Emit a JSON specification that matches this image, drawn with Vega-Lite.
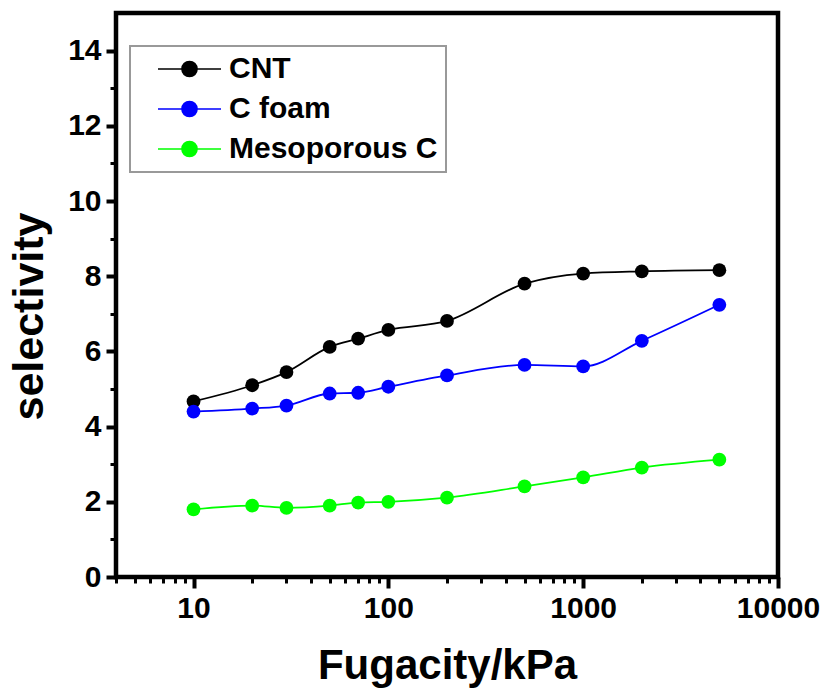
{
  "$schema": "https://vega.github.io/schema/vega-lite/v6.json",
  "width": 662,
  "height": 564,
  "autosize": "none",
  "padding": {"left": 116, "top": 13, "right": 43, "bottom": 119},
  "config": {
    "font": "Liberation Sans",
    "view": {"stroke": "#000000", "strokeWidth": 4.5},
    "axis": {
      "grid": false,
      "domain": false,
      "labelFlush": false,
      "labelOverlap": false,
      "tickColor": "#000000",
      "tickWidth": 3,
      "labelColor": "#000000",
      "labelFont": "Liberation Sans",
      "labelFontSize": 30,
      "labelFontWeight": "bold",
      "titleColor": "#000000",
      "titleFont": "Liberation Sans",
      "titleFontSize": 42,
      "titleFontWeight": "bold"
    }
  },
  "data": {
    "values": [
      {"material": "CNT", "fugacity": 10, "selectivity": 4.67},
      {"material": "CNT", "fugacity": 20, "selectivity": 5.10},
      {"material": "CNT", "fugacity": 30, "selectivity": 5.45},
      {"material": "CNT", "fugacity": 50, "selectivity": 6.12},
      {"material": "CNT", "fugacity": 70, "selectivity": 6.34},
      {"material": "CNT", "fugacity": 100, "selectivity": 6.57},
      {"material": "CNT", "fugacity": 200, "selectivity": 6.81},
      {"material": "CNT", "fugacity": 500, "selectivity": 7.80},
      {"material": "CNT", "fugacity": 1000, "selectivity": 8.07},
      {"material": "CNT", "fugacity": 2000, "selectivity": 8.13},
      {"material": "CNT", "fugacity": 5000, "selectivity": 8.16},
      {"material": "C foam", "fugacity": 10, "selectivity": 4.40},
      {"material": "C foam", "fugacity": 20, "selectivity": 4.48},
      {"material": "C foam", "fugacity": 30, "selectivity": 4.56},
      {"material": "C foam", "fugacity": 50, "selectivity": 4.88},
      {"material": "C foam", "fugacity": 70, "selectivity": 4.90},
      {"material": "C foam", "fugacity": 100, "selectivity": 5.06},
      {"material": "C foam", "fugacity": 200, "selectivity": 5.36},
      {"material": "C foam", "fugacity": 500, "selectivity": 5.64},
      {"material": "C foam", "fugacity": 1000, "selectivity": 5.60},
      {"material": "C foam", "fugacity": 2000, "selectivity": 6.28},
      {"material": "C foam", "fugacity": 5000, "selectivity": 7.24},
      {"material": "Mesoporous C", "fugacity": 10, "selectivity": 1.80},
      {"material": "Mesoporous C", "fugacity": 20, "selectivity": 1.90},
      {"material": "Mesoporous C", "fugacity": 30, "selectivity": 1.84},
      {"material": "Mesoporous C", "fugacity": 50, "selectivity": 1.90},
      {"material": "Mesoporous C", "fugacity": 70, "selectivity": 1.98},
      {"material": "Mesoporous C", "fugacity": 100, "selectivity": 2.00},
      {"material": "Mesoporous C", "fugacity": 200, "selectivity": 2.11},
      {"material": "Mesoporous C", "fugacity": 500, "selectivity": 2.41},
      {"material": "Mesoporous C", "fugacity": 1000, "selectivity": 2.65},
      {"material": "Mesoporous C", "fugacity": 2000, "selectivity": 2.91},
      {"material": "Mesoporous C", "fugacity": 5000, "selectivity": 3.12}
    ]
  },
  "layer": [
    {
      "mark": {"type": "line", "interpolate": "monotone", "strokeWidth": 1.8},
      "encoding": {
        "x": {
          "field": "fugacity",
          "type": "quantitative",
          "scale": {"type": "log", "domain": [4, 10000], "nice": false},
          "axis": {
            "orient": "bottom",
            "values": [10, 100, 1000, 10000],
            "format": "d",
            "tickSize": 11,
            "tickWidth": 4,
            "labelPadding": 5,
            "title": "Fugacity/kPa",
            "titlePadding": 22
          }
        },
        "y": {
          "field": "selectivity",
          "type": "quantitative",
          "scale": {"domain": [0, 15], "nice": false},
          "axis": {
            "orient": "left",
            "values": [0, 2, 4, 6, 8, 10, 12, 14],
            "tickSize": 10,
            "tickWidth": 4,
            "labelPadding": 5,
            "title": "selectivity",
            "titleFontSize": 43,
            "titleX": -87,
            "titleY": 303,
            "titleAngle": 270,
            "titleAlign": "center",
            "titleBaseline": "middle"
          }
        },
        "color": {
          "field": "material",
          "type": "nominal",
          "scale": {
            "domain": ["CNT", "C foam", "Mesoporous C"],
            "range": ["#000000", "#0000ff", "#00ff00"]
          },
          "legend": {
            "orient": "none",
            "legendX": 14,
            "legendY": 33,
            "title": null,
            "direction": "vertical",
            "fillColor": "#ffffff",
            "strokeColor": "#999999",
            "padding": 8,
            "symbolOffset": 19,
            "symbolType": "M-1,0L-0.24,0M0.24,0L1,0M-0.24,0A0.24,0.24,0,1,1,0.24,0A0.24,0.24,0,1,1,-0.24,0Z",
            "symbolSize": 3969,
            "symbolStrokeWidth": 1.6,
            "clipHeight": 30,
            "rowPadding": 10,
            "labelOffset": 7,
            "labelFont": "Liberation Sans",
            "labelFontSize": 30,
            "labelFontWeight": "bold",
            "labelColor": "#000000",
            "labelLimit": 400,
            "encode": {
              "legend": {
                "update": {
                  "stroke": {"value": "#999999"},
                  "strokeWidth": {"value": 2}
                }
              },
              "symbols": {
                "update": {
                  "fill": {"scale": "color", "field": "value"},
                  "stroke": {"scale": "color", "field": "value"},
                  "opacity": {"value": 1}
                }
              }
            }
          }
        }
      }
    },
    {
      "mark": {"type": "point", "filled": true, "size": 190, "opacity": 1},
      "encoding": {
        "x": {
          "field": "fugacity",
          "type": "quantitative",
          "axis": {
            "orient": "bottom",
            "values": [4, 5, 6, 7, 8, 9, 20, 30, 40, 50, 60, 70, 80, 90, 200, 300, 400, 500, 600, 700, 800, 900, 2000, 3000, 4000, 5000, 6000, 7000, 8000, 9000],
            "labels": false,
            "tickSize": 6,
            "title": null
          }
        },
        "y": {
          "field": "selectivity",
          "type": "quantitative",
          "axis": {
            "orient": "left",
            "values": [1, 3, 5, 7, 9, 11, 13],
            "labels": false,
            "tickSize": 6,
            "title": null
          }
        },
        "color": {"field": "material", "type": "nominal", "legend": null}
      }
    }
  ],
  "resolve": {"axis": {"x": "independent", "y": "independent"}}
}
